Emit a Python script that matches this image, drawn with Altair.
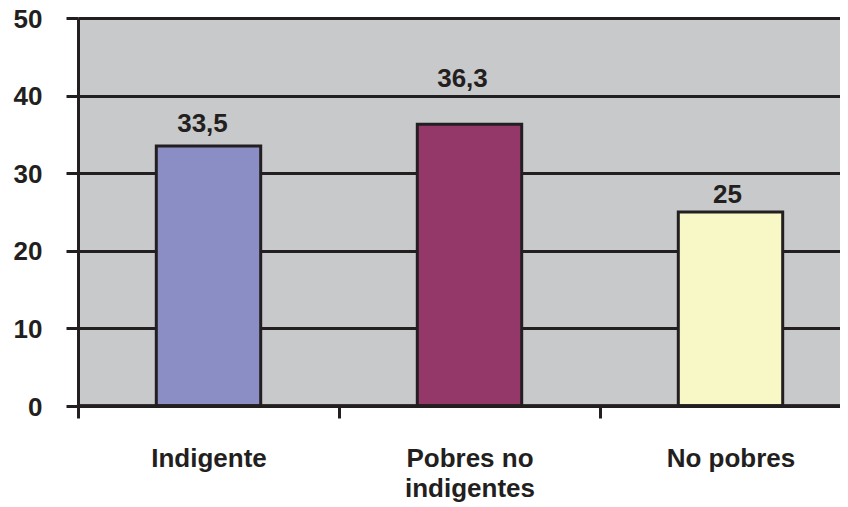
import altair as alt
import pandas as pd

categories = ["Indigente", "Pobres no indigentes", "No pobres"]
values = [33.5, 36.3, 25]
labels = ["33,5", "36,3", "25"]
colors = ["#8B8DC5", "#94386A", "#F8F7C6"]

df = pd.DataFrame({"cat": categories, "val": values, "lab": labels})

INK = "#231F20"
FONT = "Liberation Sans"
W = 762

x = alt.X(
    "cat:N",
    sort=categories,
    title=None,
    scale=alt.Scale(range=[0, 783], paddingInner=0, paddingOuter=0),
    axis=alt.Axis(
        labelAngle=0,
        tickBand="extent",
        tickSize=12,
        tickWidth=3,
        tickColor=INK,
        domain=False,
        labelFont=FONT,
        labelFontSize=26,
        labelFontWeight="bold",
        labelColor=INK,
        labelPadding=27,
        labelLineHeight=30,
        labelExpr="datum.label == 'Pobres no indigentes' ? ['Pobres no', 'indigentes'] : datum.label",
    ),
)

y = alt.Y(
    "val:Q",
    title=None,
    scale=alt.Scale(domain=[0, 50]),
    axis=alt.Axis(
        values=[0, 10, 20, 30, 40, 50],
        tickSize=12,
        tickWidth=3,
        tickColor=INK,
        grid=True,
        gridColor=INK,
        gridWidth=3,
        domain=True,
        domainColor=INK,
        domainWidth=3,
        labelFont=FONT,
        labelFontSize=26,
        labelFontWeight="bold",
        labelColor=INK,
        labelPadding=24,
        labelOffset=1,
    ),
)

bars = alt.Chart(df).mark_bar(
    width=alt.RelativeBandSize(0.4),
    stroke=INK,
    strokeWidth=3,
).encode(
    x=x,
    y=y,
    color=alt.Color("cat:N", scale=alt.Scale(domain=categories, range=colors), legend=None),
)

# per-label placement offsets (pixels), as seen in the reference
label_offsets = {"Indigente": (-6, -14), "Pobres no indigentes": (-7, -37), "No pobres": (-3, -9)}

texts = []
for cat, (ox, oy) in label_offsets.items():
    texts.append(
        alt.Chart(df).transform_filter(alt.datum.cat == cat).mark_text(
            baseline="alphabetic",
            dx=ox,
            dy=oy,
            font=FONT,
            fontSize=26,
            fontWeight="bold",
            color=INK,
        ).encode(
            x=alt.X("cat:N", sort=categories),
            y=alt.Y("val:Q"),
            text="lab:N",
        )
    )

base_rule = alt.Chart(df).mark_rule(color=INK, strokeWidth=3).encode(
    y=alt.datum(0), x=alt.value(0), x2=alt.value(W)
)

chart = alt.layer(bars, base_rule, *texts).properties(
    width=W,
    height=388,
    autosize=alt.AutoSizeParams(type="none"),
    padding={"left": 70, "top": 10, "right": 0, "bottom": 96},
    background="white",
).configure_view(
    fill="#C8C9CB",
    stroke=None,
)

chart.save("out.html", embed_options={"renderer": "svg", "actions": False})
